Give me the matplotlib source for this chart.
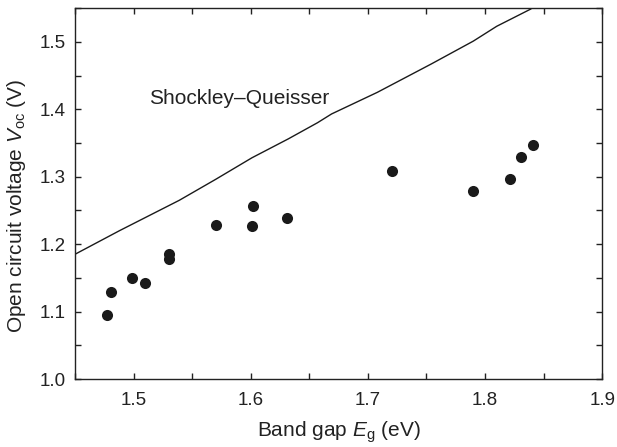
import numpy as np
import matplotlib
matplotlib.use("Agg")
import matplotlib.pyplot as plt
from matplotlib.ticker import MultipleLocator

plt.rcParams['font.family'] = ['Liberation Sans', 'DejaVu Sans']
plt.rcParams['mathtext.fontset'] = 'custom'
plt.rcParams['mathtext.rm'] = 'Liberation Sans'
plt.rcParams['mathtext.it'] = 'Liberation Sans:italic'

# measured cells
eg = [1.477, 1.481, 1.499, 1.510, 1.530, 1.530, 1.570, 1.601, 1.602, 1.631,
      1.721, 1.790, 1.821, 1.831, 1.841]
voc = [1.095, 1.129, 1.150, 1.143, 1.185, 1.178, 1.229, 1.227, 1.257, 1.239,
       1.309, 1.279, 1.297, 1.329, 1.347]

# Shockley-Queisser limit
sq_eg = [1.45, 1.488, 1.505, 1.539, 1.570, 1.601, 1.632, 1.657, 1.669, 1.708,
         1.754, 1.790, 1.810, 1.839]
sq_voc = [1.185, 1.220, 1.235, 1.265, 1.296, 1.328, 1.356, 1.380, 1.393, 1.425,
          1.467, 1.501, 1.523, 1.5485]

fig = plt.figure(figsize=(6.17, 4.47), dpi=100)
ax = fig.add_axes([0.1216, 0.152, 0.8544, 0.83])

ax.plot(sq_eg, sq_voc, color='#1a1a1a', lw=1.0)
ax.plot(eg, voc, 'o', color='#1a1a1a', ms=8, mec='none')
ax.text(1.5136, 1.4157, 'Shockley\u2013Queisser', fontsize=15,
        color='#222222', va='center', ha='left')

ax.set_xlim(1.45, 1.9)
ax.set_ylim(1.0, 1.55)
ax.xaxis.set_major_locator(MultipleLocator(0.1))
ax.xaxis.set_minor_locator(MultipleLocator(0.05))
ax.yaxis.set_major_locator(MultipleLocator(0.1))
ax.yaxis.set_minor_locator(MultipleLocator(0.05))
ax.tick_params(which='both', direction='in', top=True, right=True,
               length=4.5, width=1.0, labelsize=13.5, colors='#222222')
ax.tick_params(axis='x', pad=9)
ax.tick_params(axis='y', pad=7)
ax.set_xticks([1.5, 1.6, 1.7, 1.8, 1.9])
ax.set_xticklabels(['1.5', '1.6', '1.7', '1.8', '1.9'])
ax.set_yticks([1.0, 1.1, 1.2, 1.3, 1.4, 1.5])
ax.set_yticklabels(['1.0', '1.1', '1.2', '1.3', '1.4', '1.5'])
for s in ax.spines.values():
    s.set_linewidth(1.0)
    s.set_color('#222222')

ax.set_xlabel(r'Band gap $\mathit{E}_{\mathrm{g}}$ (eV)', fontsize=15, color='#222222', labelpad=8)
ax.set_ylabel(r'Open circuit voltage $\mathit{V}_{\mathrm{oc}}$ (V)', fontsize=15, color='#222222')
ax.yaxis.set_label_coords(-0.089, 0.468)

fig.savefig('out.png', dpi=100)
